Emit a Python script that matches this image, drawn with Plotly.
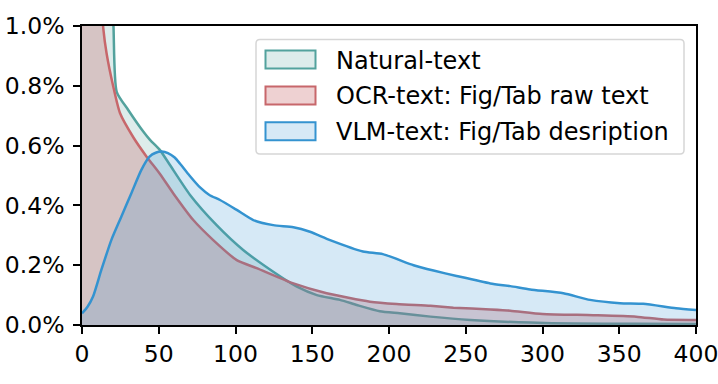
import plotly.graph_objects as go

# ---- data (values in percent) ----
series_names = ["Natural-text", "OCR-text: Fig/Tab raw text", "VLM-text: Fig/Tab desription"]

natural_x = [0, 10, 18, 20.5, 22.6, 30, 39.9, 44.3, 50.8, 57.3, 70.4, 87.7, 105, 124.6, 140, 153, 168, 179, 194, 207, 227, 253, 292, 320, 360, 400]
natural_y = [3.0, 2.0, 1.3, 1.0, 0.78, 0.72, 0.647, 0.619, 0.585, 0.535, 0.435, 0.334, 0.251, 0.178, 0.128, 0.100, 0.084, 0.067, 0.046, 0.039, 0.028, 0.017, 0.008, 0.005, 0.004, 0.003]

ocr_x = [0, 8, 13.9, 16, 20.4, 24.8, 33.4, 42.1, 50.8, 59.5, 72.5, 85.5, 100.8, 113.8, 137.7, 159.4, 187.6, 205, 227, 242, 266, 279, 300, 333, 361, 379, 400]
ocr_y = [2.6, 1.5, 0.99, 0.909, 0.797, 0.708, 0.628, 0.563, 0.505, 0.44, 0.351, 0.284, 0.217, 0.19, 0.139, 0.106, 0.078, 0.07, 0.064, 0.058, 0.052, 0.048, 0.037, 0.033, 0.028, 0.018, 0.017]

vlm_x = [0, 3.5, 7.2, 12.6, 19.1, 25.6, 32.1, 38.6, 44, 48, 52, 56, 60.4, 63.8, 70, 76.9, 83, 89.9, 100.8, 111.6, 124.6, 137.7, 148.5, 161.6, 183, 196, 216, 229, 244, 266, 279, 292, 313.6, 331, 350.5, 365.6, 387, 400]
vlm_y = [0.039, 0.06, 0.095, 0.184, 0.284, 0.362, 0.44, 0.518, 0.563, 0.576, 0.58, 0.575, 0.56, 0.54, 0.50, 0.46, 0.435, 0.418, 0.385, 0.351, 0.334, 0.327, 0.312, 0.284, 0.246, 0.237, 0.2, 0.182, 0.164, 0.139, 0.13, 0.119, 0.106, 0.084, 0.073, 0.071, 0.056, 0.05]

x_ticks = [0, 50, 100, 150, 200, 250, 300, 350, 400]
y_ticks = [0.0, 0.2, 0.4, 0.6, 0.8, 1.0]

line_colors = ["#53a29d", "#c7676b", "#3493d0"]
fill_colors = ["rgba(83,162,157,0.2)", "rgba(199,103,107,0.3)", "rgba(52,147,208,0.2)"]

FONT = "DejaVu Sans"

fig = go.Figure()
for name, xs, ys, lc, fc in zip(series_names, [natural_x, ocr_x, vlm_x], [natural_y, ocr_y, vlm_y], line_colors, fill_colors):
    fig.add_trace(go.Scatter(x=xs, y=ys, mode="lines", name=name, fill="tozeroy",
                             line=dict(color=lc, width=2.5, shape="spline", smoothing=0.6),
                             fillcolor=fc, showlegend=False, hoverinfo="skip"))

# ---- manual legend (matplotlib-style) ----
PW, PH = 614.0, 299.0
def px2x(p):
    return (p - 82) / PW
def py2y(p):
    return (325 - p) / PH

shapes = []
bx0, bx1, by0, by1 = px2x(256), px2x(684), py2y(39.5), py2y(154)
rx, ry = 4 / PW, 4 / PH
path = (f"M{bx0+rx},{by0} L{bx1-rx},{by0} Q{bx1},{by0} {bx1},{by0-ry} "
        f"L{bx1},{by1+ry} Q{bx1},{by1} {bx1-rx},{by1} L{bx0+rx},{by1} "
        f"Q{bx0},{by1} {bx0},{by1+ry} L{bx0},{by0-ry} Q{bx0},{by0} {bx0+rx},{by0} Z")
shapes.append(dict(type="path", xref="paper", yref="paper", path=path,
                   fillcolor="rgba(255,255,255,0.8)", line=dict(color="#d6d6d6", width=1.5), layer="above"))
annotations = []
row_centers = [59.5, 95.5, 131.2]
for name, lc, fc, cy in zip(series_names, line_colors, fill_colors, row_centers):
    shapes.append(dict(type="rect", xref="paper", yref="paper",
                       x0=px2x(265.5), x1=px2x(315.5), y0=py2y(cy - 9), y1=py2y(cy + 9),
                       fillcolor=fc, line=dict(color=lc, width=2), layer="above"))
    annotations.append(dict(xref="paper", yref="paper", x=px2x(334), y=py2y(cy + 1),
                            xanchor="left", yanchor="middle", text=name, showarrow=False,
                            font=dict(family=FONT, size=24, color="black")))

axis_common = dict(showline=True, linecolor="black", linewidth=1.6, mirror=True,
                   ticks="outside", ticklen=7, tickwidth=1.6, tickcolor="black",
                   showgrid=False, zeroline=False, automargin=False,
                   ticklabeloverflow="allow",
                   tickfont=dict(family=FONT, size=23.5, color="black"))

fig.update_layout(
    width=718, height=384,
    margin=dict(l=82, r=22, t=26, b=59),
    paper_bgcolor="white", plot_bgcolor="white",
    xaxis=dict(range=[0, 400], tickvals=x_ticks, ticktext=[str(v) for v in x_ticks], **axis_common),
    yaxis=dict(range=[0, 1.0], tickvals=y_ticks, ticktext=[f"{v:.1f}%" for v in y_ticks],
               ticklabelstandoff=4, **axis_common),
    shapes=shapes, annotations=annotations, showlegend=False,
)

fig.write_html("out.html", config={"displayModeBar": False},
               post_script="document.body.style.margin='0';document.body.style.overflow='hidden';")
